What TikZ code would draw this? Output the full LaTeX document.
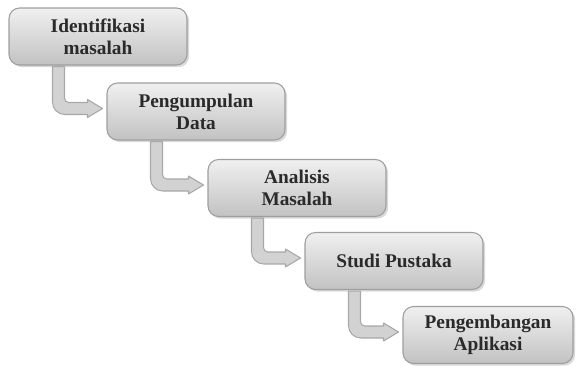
\documentclass[tikz,border=0pt]{standalone}
\usepackage{fontspec}
\setmainfont{Liberation Serif}
\usepackage{tikz}
\usetikzlibrary{calc,shadows}
\usepackage{xcolor}
\definecolor{boxtop}{HTML}{F0F0F0}
\definecolor{boxbottom}{HTML}{C2C2C2}
\definecolor{boxline}{HTML}{9E9E9E}
\definecolor{arrowgray}{HTML}{D2D2D2}
\definecolor{arrowline}{HTML}{A8A8A8}
\definecolor{textgray}{HTML}{2A2A2A}
\tikzstyle{stage} = [rounded corners=6pt, minimum width=3.56cm, minimum height=1.14cm, draw=boxline, line width=0.6pt, top color=boxtop, bottom color=boxbottom, drop shadow={shadow xshift=1.2pt, shadow yshift=-1.2pt, opacity=0.3}, align=center, text=textgray, font=\bfseries\fontsize{11}{12.5}\selectfont]
\tikzstyle{bentarrow} = [fill=arrowgray, draw=arrowline, line width=0.6pt, line join=round]
% bent block arrow from the bottom of #1 to the left side of #2
\newcommand{\stagearrow}[2]{%
  \coordinate (#1-s) at ($(#1.south west)+(50,1)$);
  \coordinate (#1-t) at ($(#2.west)+(-4,-3)$);
  \filldraw[bentarrow] ($(#1-s)+(-6,0)$) [rounded corners=7pt] -- ($(#1-s |- #1-t)+(-6,6)$)
    [sharp corners] -- ($(#1-t)+(-15,6)$) -- ($(#1-t)+(-15,9)$) -- (#1-t)
    -- ($(#1-t)+(-15,-9)$) -- ($(#1-t)+(-15,-6)$)
    [rounded corners=2.5pt] -- ($(#1-s |- #1-t)+(6,-6)$)
    [sharp corners] -- ($(#1-s)+(6,0)$) -- cycle;
}

\begin{document}
\begin{tikzpicture}[x=0.02cm,y=-0.02cm]
\useasboundingbox (0,0) rectangle (577,365);

% Stages
\node[stage] (ident) at (98,36.5) {Identifikasi\\masalah};
\node[stage] (kumpul) at (196,111.5) {Pengumpulan\\Data};
\node[stage] (analisis) at (297,188) {Analisis\\Masalah};
\node[stage] (pustaka) at (394,261) {Studi Pustaka};
\node[stage, minimum width=3.4cm] (kembang) at (488,335) {Pengembangan\\Aplikasi};

% Arrows between stages
\stagearrow{ident}{kumpul}
\stagearrow{kumpul}{analisis}
\stagearrow{analisis}{pustaka}
\stagearrow{pustaka}{kembang}

\end{tikzpicture}
\end{document}
